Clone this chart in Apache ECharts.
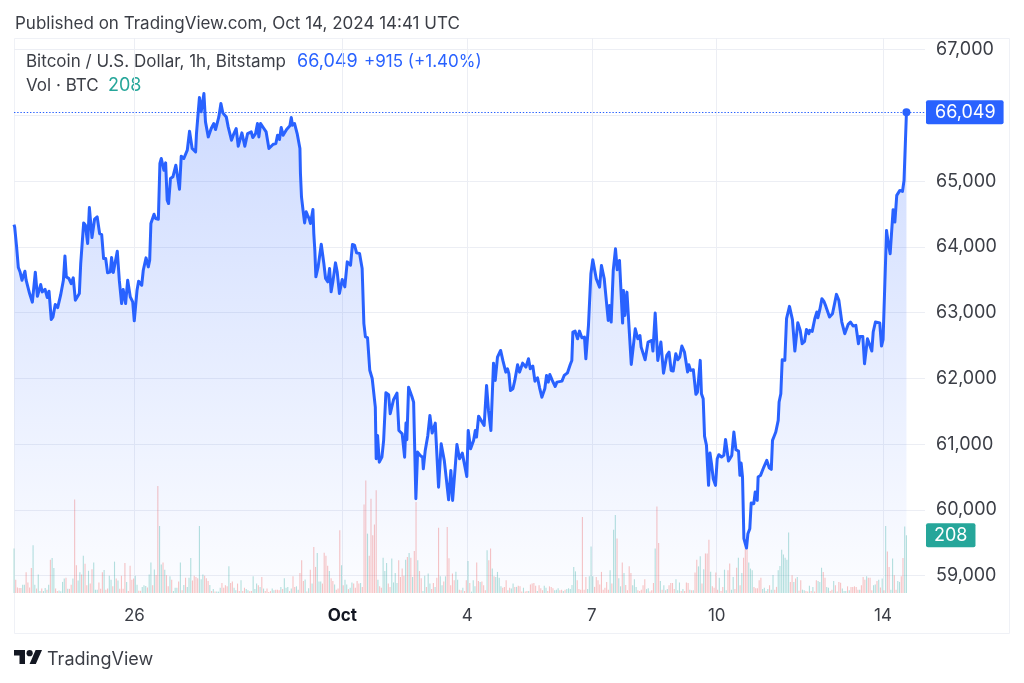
<!DOCTYPE html>
<html style="height: 100%">
<head>
    <meta charset="utf-8">
    <script src="https://cdn.jsdelivr.net/npm/echarts@6/dist/echarts.min.js"></script>
</head>
<body style="height: 100%; margin: 0; background: #fff">
<div id="btc_container" style="width: 1024px; height: 683px"></div>
<script type="text/javascript">

    // hours since the left edge of the chart (1h bars, Sep 23 -> Oct 14)
    var dayHours = [69.5, 189.5, 261.5, 333.5, 405.5, 501.5];
    var dayLabels = ['26', 'Oct', '4', '7', '10', '14'];
    var priceTicks = [59000, 60000, 61000, 62000, 63000, 64000, 65000, 66000, 67000];
    var lastPrice = 66049;
    var lastVolume = 208;

    // [hour, close]
    var closePoints = [
        [0,64340],[0.4,64300],[1.5,64000],[2.5,63687],[3.5,63620],[4.6,63494],[6.3,63631],[7,63494],[9,63291],[10.6,63160],
        [12.3,63616],[13.5,63250],[15.4,63428],[16.3,63317],[17.9,63357],[19.2,63230],[20.2,63327],[21.5,62896],[22.5,62937],[23.8,63124],
        [25.2,63078],[26.9,63266],[28.5,63494],[29.4,63864],[30.2,63545],[31.7,63520],[33,63443],[34.2,63530],[35.4,63190],[36.5,63215],
        [37.7,63291],[38.5,63748],[39.4,63758],[40.2,64366],[41.2,64331],[42.5,64052],[43.5,64600],[45,64143],[46.5,64422],[48,64457],
        [49.4,64204],[50.6,64189],[51.7,63824],[52.9,63824],[54,63606],[55.6,63621],[56.3,63839],[57.3,63611],[59.6,63935],[60.8,63484],
        [62.1,63139],[63,63352],[64.4,63139],[65.6,63494],[67.1,63241],[68.5,63165],[69.4,62876],[71,63342],[71.9,63479],[73.7,63418],
        [74.6,63646],[76.2,63834],[77.5,63697],[78.3,63798],[79,64356],[80.8,64498],[81.7,64432],[83.3,64422],[84.2,65269],[85,65345],
        [86.5,65167],[87.5,65279],[88.4,64711],[89.2,64660],[90.3,65041],[91.7,65066],[93.4,65243],[95.5,64878],[96.5,65380],[98,65345],
        [100,65472],[101.3,65760],[102,65770],[102.8,65497],[104.8,65446],[105.3,65725],[106.3,65735],[107,66273],[108,66055],[109.6,66333],
        [110.5,65902],[111.1,65877],[112.1,65674],[113.8,65801],[115.3,65877],[116.3,65786],[118.2,65978],[119.4,66181],[120.5,66039],[122.5,65978],
        [123.6,65826],[124.6,65816],[125.5,65624],[126.9,65725],[128.2,65801],[129.4,65532],[130.3,65548],[131.5,65735],[133.2,65532],[134.8,65725],
        [136.9,65750],[137.8,65664],[139.4,65725],[140.5,65877],[141.3,65674],[142.3,65877],[144.2,65801],[145.5,65750],[147.1,65497],[148.2,65482],
        [149.6,65563],[151.1,65573],[152.1,65700],[153.2,65634],[154.2,65816],[155.3,65700],[157.3,65786],[159.2,65842],[160,65968],[160.7,65852],
        [161.9,65877],[163.4,65725],[165,65497],[165.3,65117],[165.9,64762],[166.9,64534],[167.7,64366],[168.6,64534],[169.4,64483],[170.3,64432],
        [171.1,64356],[172.5,64569],[173,64204],[173.6,63950],[174.2,63545],[175.5,63697],[177.3,64042],[178.8,63748],[179.8,63520],[181.1,63469],
        [182.1,63672],[183,63317],[184,63469],[185.5,63758],[186.5,63621],[187.8,63292],[189.4,63504],[190.9,63393],[192.3,63773],[194.2,63722],
        [195.3,64037],[196.5,64027],[197.7,63910],[199.4,63900],[200.9,63672],[201.9,62835],[202.8,62632],[204,62622],[205.3,62125],[206.7,61999],
        [207.5,61995],[208.5,61564],[209,60778],[209.8,61133],[210.8,60727],[212.3,60803],[213.3,61057],[214.6,61782],[216.2,61752],[217.1,61463],
        [218.1,61463],[219,61676],[221,61777],[222.1,61209],[224,61158],[225.4,60803],[226.2,61321],[226.7,61067],[227.7,61868],[229.6,61726],
        [230.6,61640],[231.9,60170],[232.9,60880],[234.4,60829],[235.8,60803],[236.2,60626],[237.3,60905],[238.8,61133],[240,61437],[241.3,61169],
        [243.1,61321],[245,60347],[246.5,61006],[248.3,60753],[250.8,60155],[252.1,60601],[253.1,60145],[254.6,60651],[255.6,60996],[257.1,60778],
        [258.7,60864],[261.3,60509],[262.1,61209],[263.5,60930],[265.2,61057],[266.2,61209],[266.9,61108],[268.1,61427],[269,61437],[271.3,61285],
        [272.7,61894],[273.8,61513],[275.2,61209],[276.7,62233],[277.7,61970],[279,62324],[280.8,62426],[282.1,62274],[283.8,62096],[284.8,62147],
        [285.6,62071],[286.5,61817],[287.9,61843],[289,61970],[290.6,62208],[291.7,62096],[293.5,62233],[295.4,62172],[296.9,62299],[297.9,62147],
        [299.4,62188],[300.6,61959],[302.1,62010],[303.3,61858],[304.6,61716],[306.3,61843],[307.3,62046],[308.3,61944],[309.2,62061],[310.6,61970],
        [312.3,61878],[313.3,61944],[316.2,61959],[317.5,62046],[319.4,62086],[321,62213],[321.9,62274],[322.5,62705],[323.8,62720],[325.2,62603],
        [326.3,62720],[327.7,62619],[329.2,62629],[330,62299],[331.5,62806],[332.9,63592],[334,63805],[336,63516],[337.9,63389],[339,63719],
        [340.6,63516],[342.9,62882],[343.7,63110],[344.6,62857],[345.8,63643],[347.1,63972],[348.1,63653],[349.4,63795],[351.2,62842],[351.7,63338],
        [352.5,62958],[353.7,63313],[356.2,62213],[358.5,62755],[360,62603],[361.2,62654],[361.9,62477],[364.2,62284],[365.9,62553],[368,62578],
        [368.7,62416],[370,62994],[371.5,62274],[373.3,62553],[374.8,62081],[376.7,62350],[378,62400],[379.2,62122],[380.4,62113],[381.9,62376],
        [383.1,62285],[384.2,62326],[385.4,62493],[386.9,62402],[388.7,62098],[389.4,62209],[390.4,62123],[392,62133],[393.5,61758],[394.4,61793],
        [396,62275],[396.7,61768],[397.7,61692],[398.5,61119],[399.6,60982],[400.8,60374],[401.6,60866],[402.5,60703],[403.5,60475],[404.8,60374],
        [405.8,60779],[406.7,60840],[408.3,60805],[409.6,60830],[410.6,61073],[412.3,60744],[414.2,60830],[415.4,61185],[416.6,60916],[418.1,60896],
        [418.9,60526],[419.6,60713],[420.4,60500],[421.2,59563],[422.7,59420],[423.5,59638],[424.6,59715],[425.4,60105],[426.9,60095],[427.7,60272],
        [428.9,60146],[429.4,60500],[430.8,60526],[432.7,60653],[433.5,60627],[434.4,60754],[435.8,60642],[437,60617],[437.7,61058],[438.7,61124],
        [439.6,61185],[441,61362],[441.5,61641],[442.5,61768],[443.3,62285],[444.8,62275],[445.8,62909],[446.7,62934],[447.5,63096],[449.2,62894],
        [450.6,62417],[451.4,62427],[452.3,62848],[453.7,62731],[454.8,62528],[456.2,62564],[457.3,62746],[458.7,62680],[459.2,62731],[460.6,62716],
        [462.1,62909],[463.3,63010],[463.9,62924],[465,63046],[466.2,63213],[467.3,63177],[468.5,63096],[469.4,63096],[470.6,62934],[472.3,62985],
        [473.5,63137],[474.6,63279],[476,63188],[476.9,63177],[477.7,62858],[478.5,62843],[479.4,62681],[481.4,62823],[482.7,62858],[484.2,62797],
        [485.8,62807],[487.3,62528],[488.1,62640],[489.8,62640],[490.8,62224],[491.7,62214],[492.5,62605],[493.9,62503],[495,62417],[495.8,62706],
        [497.1,62858],[498.1,62833],[499.6,62843],[500.6,62493],[501.5,62589],[502.5,62605],[503.5,64252],[504.4,64075],[505.6,63897],[507.3,64567],
        [508.3,64379],[509.4,64785],[511.2,64860],[512.7,64845],[513.6,65013],[515,66049]
    ];

    // hourly volume in BTC, one entry per hour: minus means a falling bar (red)
    var volumes = [
        160,-48,-20,-18,-18,30,30,-75,-38,-20,-90,172,30,-16,67,7,-16,7,18,-12,
        30,-120,126,90,-16,-7,9,6,40,52,-55,15,-15,-30,52,-337,-100,45,75,-67,
        134,-105,-28,80,-34,-86,110,12,12,-38,-15,-75,83,-12,-16,62,48,-24,113,-52,
        45,-15,-62,-15,-108,40,-7,-98,-48,-52,62,30,-8,-8,22,28,25,-20,67,110,
        -28,85,-65,-386,241,103,-110,84,-64,-24,60,-48,7,19,19,-41,110,-10,29,-55,
        22,55,126,-45,-62,-58,-53,241,50,67,-62,-53,-43,29,-7,14,-5,5,5,19,
        -36,-19,-28,-24,96,-36,-41,19,10,-34,-7,46,-7,-19,14,10,-6,-7,60,14,
        34,-28,22,-58,16,-7,-16,-4,-7,16,10,-12,-12,-10,22,-14,53,19,22,-7,
        16,-60,-22,24,12,-72,-118,-43,49,-5,17,-84,34,-166,-94,144,41,41,-34,-145,
        -134,-98,79,-53,-43,31,-12,-16,-226,100,-28,48,31,-14,19,38,-34,-19,-43,-34,
        36,-22,-319,-405,214,-134,-340,-208,-247,-370,48,-24,-19,127,79,108,-34,-22,124,38,
        72,36,-118,-58,-88,-62,120,-130,144,-127,58,-151,-328,118,-79,-53,7,62,-22,70,
        34,-14,-36,22,-55,-235,60,28,-41,60,-238,-125,-28,-70,-46,77,48,-12,-10,19,
        -7,-46,115,-36,5,46,24,-110,-43,40,-41,-28,-10,154,-118,-160,88,-60,58,76,
        55,24,-19,-22,-46,10,-19,16,34,-22,22,-26,-24,-5,19,-5,-7,7,-31,-34,
        -36,-26,7,-28,-17,-10,26,19,-7,-24,-22,-17,10,12,17,-10,-12,7,-12,14,
        17,14,29,94,78,-46,-14,-12,-274,-12,-58,14,60,168,60,-22,-58,-46,-31,-76,
        -12,-19,-40,-12,82,-34,228,281,-196,53,24,-110,72,-29,-10,-96,-72,28,50,22,
        -10,-7,-12,-28,-50,14,17,-5,-10,-36,160,-312,-180,43,-12,28,-10,14,-28,-36,
        -36,-14,50,10,38,-7,14,-7,-38,-36,12,-10,10,-74,-120,96,132,-34,86,-142,
        -142,-192,77,-24,-19,-74,-12,55,-7,-22,84,10,-82,-106,12,58,-14,-91,127,-28,
        72,-127,-160,-166,110,88,82,-22,-17,-17,-46,-55,14,19,-7,14,-28,12,65,-12,
        -22,82,97,156,139,127,120,218,-40,-64,40,-52,58,-8,-46,12,10,-7,-5,26,
        -7,22,-5,-46,43,40,91,-76,-55,22,19,-7,-12,43,-28,5,-40,-37,16,7,
        7,-24,10,-22,-22,-24,-22,-12,12,-28,-58,-48,60,-55,-55,-10,28,31,-43,48,
        -20,52,-10,241,-150,-94,12,124,-64,-12,43,40,-60,-126,240,208
    ];

    var blue = '#2962ff';
    var teal = '#26a69a';
    var textColor = '#3b3e46';
    var gridColor = '#eceef4';
    var fontName = 'Inter';

    var volumeData = volumes.map(function (v, i) {
        return {
            value: [i, Math.abs(v)],
            itemStyle: {color: v < 0 ? 'rgba(239, 83, 80, 0.34)' : 'rgba(38, 166, 154, 0.34)'}
        };
    });

    function headText(left, top, text, color, size) {
        return {
            type: 'text', left: left, top: top, silent: true,
            style: {text: text, fill: color, font: (size || 17) + 'px ' + fontName}
        };
    }

    var btc_option = {
        animation: false,
        backgroundColor: '#ffffff',
        grid: [
            {left: 14, right: 99, top: 38, bottom: 90},
            {left: 14, right: 99, top: 38, bottom: 90}
        ],
        xAxis: [
            {
                type: 'value', gridIndex: 0, min: 0, max: 525.7,
                axisLine: {show: false},
                axisTick: {show: false, customValues: dayHours},
                axisLabel: {
                    customValues: dayHours,
                    margin: 14,
                    fontFamily: fontName,
                    fontSize: 17,
                    color: textColor,
                    formatter: function (value) {
                        var label = dayLabels[dayHours.indexOf(value)];
                        return label === 'Oct' ? '{month|Oct}' : label;
                    },
                    rich: {month: {fontFamily: fontName, fontSize: 17, fontWeight: 'bold', color: '#131722'}}
                },
                splitLine: {show: true, lineStyle: {color: gridColor, width: 1}}
            },
            {type: 'value', gridIndex: 1, min: 0, max: 525.7, show: false}
        ],
        yAxis: [
            {
                type: 'value', gridIndex: 0, position: 'right', min: 58737, max: 67178,
                axisLine: {show: false},
                axisTick: {show: false, customValues: priceTicks},
                axisLabel: {
                    customValues: priceTicks,
                    margin: 11,
                    fontFamily: fontName,
                    fontSize: 18,
                    color: textColor,
                    formatter: function (value) {
                        return value.toLocaleString('en-US');
                    }
                },
                splitLine: {show: true, lineStyle: {color: gridColor, width: 1}}
            },
            {type: 'value', gridIndex: 1, min: 0, max: 2000, show: false}
        ],
        series: [
            {
                name: 'Vol',
                type: 'bar',
                xAxisIndex: 1,
                yAxisIndex: 1,
                barWidth: 1.1,
                z: 1,
                data: volumeData,
                markLine: {
                    silent: true,
                    symbol: 'none',
                    lineStyle: {color: 'rgba(0, 0, 0, 0)', width: 1},
                    label: {
                        show: true,
                        position: 'end', distance: 1, color: '#fff', backgroundColor: teal,
                        fontFamily: fontName, fontSize: 18, padding: [3, 8, 3, 8], borderRadius: 2,
                        formatter: String(lastVolume)
                    },
                    data: [{yAxis: lastVolume}]
                }
            },
            {
                name: 'BTCUSD',
                type: 'line',
                xAxisIndex: 0,
                yAxisIndex: 0,
                symbol: 'none',
                z: 2,
                lineStyle: {color: blue, width: 3, join: 'round'},
                areaStyle: {
                    color: new echarts.graphic.LinearGradient(0, 0, 0, 1, [
                        {offset: 0, color: 'rgba(41, 98, 255, 0.33)'},
                        {offset: 1, color: 'rgba(41, 98, 255, 0.02)'}
                    ])
                },
                data: closePoints,
                markLine: {
                    silent: true,
                    symbol: 'none',
                    lineStyle: {color: blue, type: [1.4, 1.8], width: 1.2},
                    label: {
                        position: 'end', distance: 1, color: '#fff', backgroundColor: blue,
                        fontFamily: fontName, fontSize: 18, padding: [3, 8, 3, 9], borderRadius: 2,
                        formatter: lastPrice.toLocaleString('en-US')
                    },
                    data: [{yAxis: lastPrice}]
                },
                markPoint: {
                    silent: true,
                    symbol: 'circle',
                    symbolSize: 8,
                    itemStyle: {color: blue},
                    label: {show: false},
                    data: [{coord: [515, lastPrice]}]
                }
            }
        ],
        graphic: [
            {
                type: 'rect', silent: true, z: 0,
                shape: {x: 14.5, y: 38.5, width: 995, height: 595},
                style: {fill: 'none', stroke: '#eff1f6', lineWidth: 1}
            },
            headText(15, 15, 'Published on TradingView.com, Oct 14, 2024 14:41 UTC', textColor),
            headText(26, 53, 'Bitcoin / U.S. Dollar, 1h, Bitstamp', textColor),
            headText(297, 53, '66,049', blue, 18),
            headText(364, 53, '+915 (+1.40%)', blue),
            headText(26, 77, 'Vol \u00b7 BTC', textColor),
            headText(108, 77, String(lastVolume), teal, 18),
            // TradingView mark
            {
                type: 'polygon', silent: true,
                shape: {points: [[14, 650], [25, 650], [25, 664], [19.5, 664], [19.5, 655.5], [14, 655.5]]},
                style: {fill: '#131722'}
            },
            {
                type: 'polygon', silent: true,
                shape: {points: [[29.6, 664], [35.8, 664], [42, 650], [35.6, 650]]},
                style: {fill: '#131722'}
            },
            {
                type: 'circle', silent: true,
                shape: {cx: 29.6, cy: 653.2, r: 3.1},
                style: {fill: '#131722'}
            },
            {
                type: 'text', left: 47, top: 651, silent: true,
                style: {text: 'TradingView', fill: textColor, font: '18px ' + fontName}
            }
        ]
    };

    var btc_chart = echarts.init(document.getElementById('btc_container'));
    btc_chart.setOption(btc_option);
</script>
</body>
</html>
